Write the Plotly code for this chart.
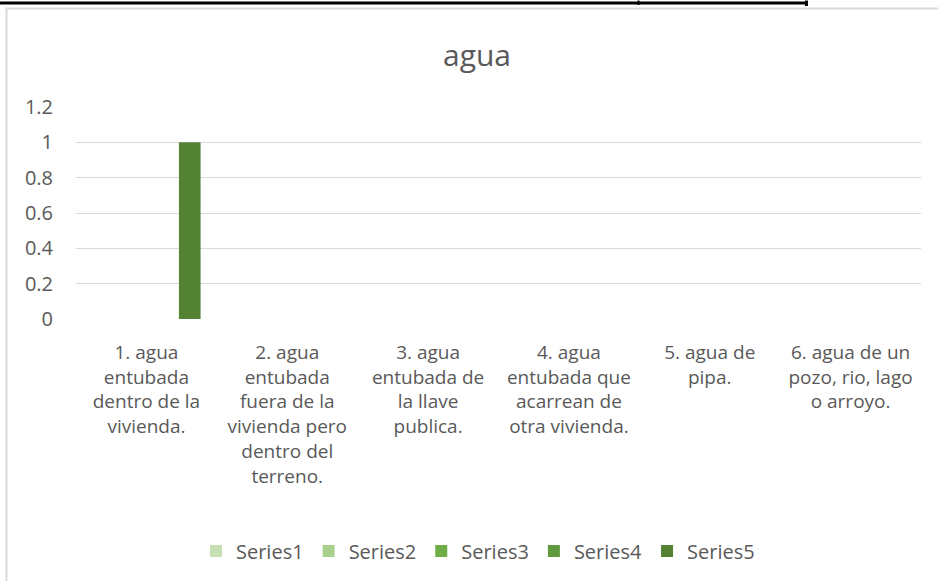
import plotly.graph_objects as go

# data
categories = [
    "1. agua<br>entubada<br>dentro de la<br>vivienda.",
    "2. agua<br>entubada<br>fuera de la<br>vivienda pero<br>dentro del<br>terreno.",
    "3. agua<br>entubada de<br>la llave<br>publica.",
    "4. agua<br>entubada que<br>acarrean de<br>otra vivienda.",
    "5. agua de<br>pipa.",
    "6. agua de un<br>pozo, rio, lago<br>o arroyo.",
]
series_names = ["Series1", "Series2", "Series3", "Series4", "Series5"]
series1 = [0, 0, 0, 0, 0, 0]
series2 = [0, 0, 0, 0, 0, 0]
series3 = [0, 0, 0, 0, 0, 0]
series4 = [0, 0, 0, 0, 0, 0]
series5 = [1, 0, 0, 0, 0, 0]
y_ticks = [0, 0.2, 0.4, 0.6, 0.8, 1, 1.2]

colors = ["#C5E0B4", "#A9D18E", "#70AD47", "#62993E", "#548235"]
text_color = "#595959"
font_family = "Open Sans, sans-serif"

# pixel geometry of the plot area (938x581 page)
W, H = 938, 581
L, R, T, B = 76, 17, 107, 261
pw, ph = W - L - R, H - T - B


def px(x):
    return (x - L) / pw


def py(y):
    return (H - B - y) / ph


fig = go.Figure()
for name, vals, col in zip(series_names, [series1, series2, series3, series4, series5], colors):
    fig.add_trace(go.Bar(
        x=categories,
        y=vals,
        name=name,
        marker=dict(color=col, line=dict(width=0)),
    ))

# chart-area border (cut off on right and bottom) and the table rule above it
shapes = [
    dict(type="rect", xref="paper", yref="paper",
         x0=px(6.5), x1=px(950), y0=py(8), y1=py(600),
         line=dict(color="#D9D9D9", width=2), layer="below"),
    dict(type="line", xref="paper", yref="paper",
         x0=px(0), x1=px(808), y0=py(2.5), y1=py(2.5),
         line=dict(color="black", width=3)),
    dict(type="line", xref="paper", yref="paper",
         x0=px(638.5), x1=px(638.5), y0=py(0), y1=py(4.5),
         line=dict(color="black", width=2)),
    dict(type="line", xref="paper", yref="paper",
         x0=px(806.5), x1=px(806.5), y0=py(0), y1=py(5.5),
         line=dict(color="black", width=3)),
]

fig.update_layout(
    width=W, height=H,
    margin=dict(l=L, r=R, t=T, b=B),
    paper_bgcolor="white",
    plot_bgcolor="white",
    font=dict(family=font_family, color=text_color, size=19),
    barmode="group",
    bargap=1.5 / 6.5,
    bargroupgap=0,
    title=dict(text="agua", font=dict(size=30, color=text_color),
               xref="container", x=477 / W, xanchor="center",
               yref="container", y=1 - 55 / H, yanchor="middle"),
    xaxis=dict(showgrid=False, showline=False, ticks="", tickangle=0,
               ticklabelstandoff=20, tickfont=dict(size=19)),
    yaxis=dict(range=[0, 1.2], tickvals=y_ticks, showgrid=True,
               gridcolor="#D9D9D9", gridwidth=1, zeroline=False,
               showline=False, ticks="", ticklabelstandoff=22,
               tickfont=dict(size=20)),
    legend=dict(orientation="h", xref="paper", x=px(478), xanchor="center",
                yref="paper", y=py(551), yanchor="middle",
                font=dict(size=20), itemwidth=30),
    shapes=shapes,
    showlegend=True,
)

# page body has a default 8px margin; drop it so the figure sits at 0,0
fig.write_html("out.html", config={"displayModeBar": False},
               post_script="document.body.style.margin='0';")
